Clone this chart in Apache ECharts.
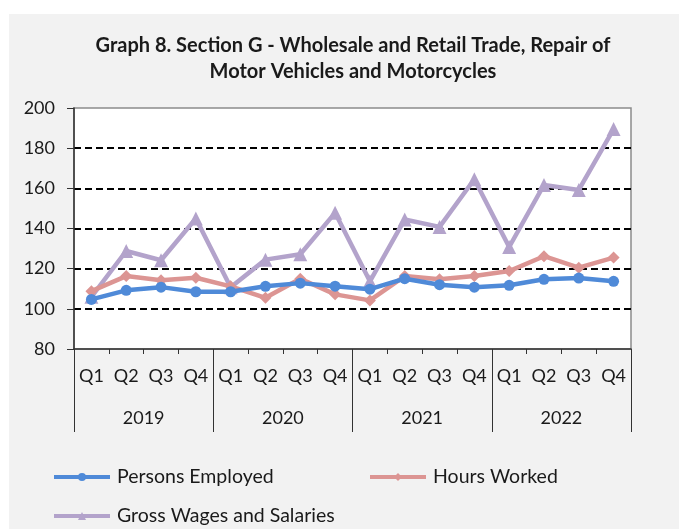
<!DOCTYPE html>
<html>
<head>
<meta charset="utf-8">
<style>
  html, body { margin: 0; padding: 0; background: #fff; }
  #main { width: 689px; height: 529px; }
</style>
<script src="https://cdn.jsdelivr.net/npm/echarts@6/dist/echarts.min.js"></script>
</head>
<body>
<div id="main"></div>
<script>
// quarters and years on the two-level x axis
const quarters = ['Q1', 'Q2', 'Q3', 'Q4', 'Q1', 'Q2', 'Q3', 'Q4', 'Q1', 'Q2', 'Q3', 'Q4', 'Q1', 'Q2', 'Q3', 'Q4']
const years = ['2019', '2020', '2021', '2022']

// index values
const personsEmployed = [104.7, 109.2, 110.8, 108.5, 108.5, 111.2, 112.8, 111.3, 109.8, 115, 112, 110.8, 111.7, 114.7, 115.3, 113.7]
const hoursWorked = [108.8, 116.3, 114.2, 115.5, 111.2, 105.5, 115, 107.2, 104.2, 116.3, 114.7, 116.3, 118.8, 126.2, 120.5, 125.5]
const grossWages = [106, 128.8, 124.2, 145, 110.8, 124.5, 127.2, 147.8, 113.7, 144.5, 140.8, 164.5, 130.8, 161.7, 159.2, 189.5]

const FONT = 'Lato'
const TXT = '#1a1a1a'

const myChart = echarts.init(document.getElementById('main'))

const legendBase = {
  itemWidth: 56,
  itemHeight: 10,
  itemGap: 0,
  lineStyle: { width: 4 },
  textStyle: { fontFamily: FONT, fontSize: 19.5, color: TXT, padding: [0, 0, 0, 2] },
}

const option = {
  backgroundColor: '#ffffff',
  animation: false,
  graphic: [
    {
      type: 'rect',
      z: -10,
      shape: { x: 9, y: 14, width: 670, height: 520 },
      style: { fill: '#f2f2f2' },
    },
  ],
  title: {
    text: 'Graph 8. Section G - Wholesale and Retail Trade, Repair of\nMotor Vehicles and Motorcycles',
    left: 353,
    top: 33,
    padding: 0,
    textAlign: 'center',
    textStyle: {
      fontFamily: FONT,
      fontSize: 20,
      fontWeight: 'bold',
      color: TXT,
      lineHeight: 26,
    },
  },
  legend: [
    Object.assign({}, legendBase, { data: ['Persons Employed'], left: 47, top: 462 }),
    Object.assign({}, legendBase, { data: ['Hours Worked'], left: 363, top: 462 }),
    Object.assign({}, legendBase, { data: ['Gross Wages and Salaries'], left: 47, top: 501 }),
  ],
  grid: {
    left: 74,
    right: 58,
    top: 108,
    bottom: 180,
    show: true,
    backgroundColor: '#ffffff',
    borderColor: '#8c8c8c',
    borderWidth: 1.5,
  },
  xAxis: [
    {
      type: 'category',
      data: quarters,
      position: 'bottom',
      boundaryGap: true,
      axisLine: { lineStyle: { color: '#333', width: 1.5 } },
      axisTick: { show: true, length: 5, lineStyle: { color: '#333' } },
      axisLabel: { fontFamily: FONT, fontSize: 18, color: TXT, margin: 18, interval: 0 },
    },
    {
      type: 'category',
      data: years,
      position: 'bottom',
      boundaryGap: true,
      axisLine: { show: false },
      axisTick: { show: true, length: 83, lineStyle: { color: '#333' } },
      axisLabel: { fontFamily: FONT, fontSize: 18, color: TXT, margin: 60, interval: 0 },
    },
  ],
  yAxis: {
    type: 'value',
    min: 80,
    max: 200,
    interval: 20,
    axisLine: { show: true, lineStyle: { color: '#333', width: 1.5 } },
    axisTick: { show: true, length: 7, lineStyle: { color: '#333' } },
    axisLabel: { fontFamily: FONT, fontSize: 18, color: TXT, margin: 19 },
    splitLine: {
      show: true,
      showMinLine: false,
      showMaxLine: false,
      lineStyle: { color: '#000', type: [7, 4], width: 2 },
    },
  },
  series: [
    {
      name: 'Persons Employed',
      type: 'line',
      data: personsEmployed,
      xAxisIndex: 0,
      color: '#4f8ad8',
      lineStyle: { width: 4.5 },
      symbol: 'circle',
      symbolSize: 11,
      z: 4,
    },
    {
      name: 'Hours Worked',
      type: 'line',
      data: hoursWorked,
      xAxisIndex: 0,
      color: '#dc9593',
      lineStyle: { width: 4.5 },
      symbol: 'diamond',
      symbolSize: 12,
      z: 3,
    },
    {
      name: 'Gross Wages and Salaries',
      type: 'line',
      data: grossWages,
      xAxisIndex: 0,
      color: '#b3a3cb',
      lineStyle: { width: 4.5 },
      symbol: 'triangle',
      symbolSize: 14,
      z: 2,
    },
  ],
}

myChart.setOption(option)
</script>
</body>
</html>
